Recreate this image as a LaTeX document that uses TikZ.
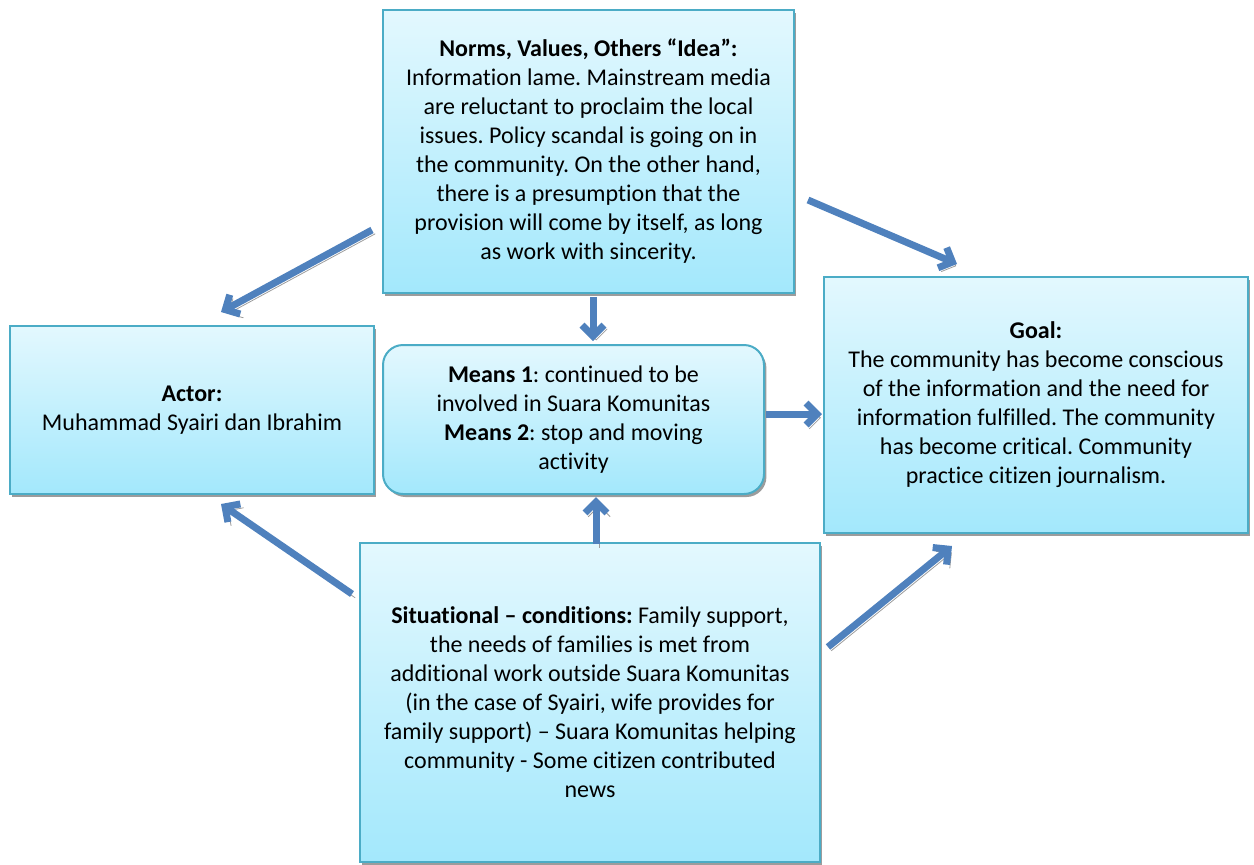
\documentclass[tikz,border=0pt]{standalone}
\usepackage{fontspec}
\setmainfont{Carlito}[Ligatures=NoCommon]
\frenchspacing
\usetikzlibrary{arrows.meta,shadows}
\definecolor{boxline}{HTML}{4BACC6}
\definecolor{boxtop}{HTML}{E3F8FE}
\definecolor{boxbottom}{HTML}{A3E8FC}
\definecolor{flowblue}{HTML}{4F81BD}
\definecolor{flowshadow}{HTML}{9C9C9C}

\begin{document}
\begin{tikzpicture}[x=0.5pt,y=-0.5pt]
\tikzset{
  infobox/.style={rectangle,draw=boxline,line width=1pt,top color=boxtop,bottom color=boxbottom,
    align=center,inner sep=2pt,font=\fontsize{12}{14.5}\selectfont,
    drop shadow={shadow xshift=1.2pt,shadow yshift=-1.5pt,fill=flowshadow,opacity=1}},
  meansbox/.style={infobox,rounded corners=10pt},
  flow/.style={-{Straight Barb[length=5.5pt,width=11pt]},line width=3.5pt,draw=flowblue,
    preaction={draw=flowshadow,transform canvas={xshift=1.6pt,yshift=-1.9pt}}}
}
\useasboundingbox (0,0) rectangle (1254,864);
\node[infobox,minimum width=205.5pt,minimum height=141.5pt] (n_norms) at (588.5,151.5)
  {\textbf{Norms, Values, Others “Idea”:}\\ Information lame. Mainstream media\\ are reluctant to proclaim the local\\ issues. Policy scandal is going on in\\ the community. On the other hand,\\ there is a presumption that the\\ provision will come by itself, as long\\ as work with sincerity.};
\node[infobox,minimum width=182pt,minimum height=84pt] (n_actor) at (192,410)
  {\textbf{Actor:}\\ Muhammad Syairi dan Ibrahim};
\node[meansbox,minimum width=190.5pt,minimum height=74.5pt] (n_means) at (573.5,419.5)
  {\textbf{Means 1}: continued to be\\ involved in Suara Komunitas\\ \textbf{Means 2}: stop and moving\\ activity};
\node[infobox,minimum width=212pt,minimum height=128pt] (n_goal) at (1036,405)
  {\textbf{Goal:}\\ The community has become conscious\\ of the information and the need for\\ information fulfilled. The community\\ has become critical. Community\\ practice citizen journalism.};
\node[infobox,minimum width=230pt,minimum height=159.5pt] (n_sit) at (590,702.5)
  {\textbf{Situational – conditions:} Family support,\\ the needs of families is met from\\ additional work outside Suara Komunitas\\ (in the case of Syairi, wife provides for\\ family support) – Suara Komunitas helping\\ community - Some citizen contributed\\ news};
% arrows between the boxes
\draw[flow] ([shift={(-10,-64)}]n_norms.south west) -- ([shift={(212,-13)}]n_actor.north west);
\draw[flow] ([shift={(13,-94)}]n_norms.south east) -- ([shift={(134,-12)}]n_goal.north west);
\draw[flow] ([shift={(4.5,3)}]n_norms.south) -- ([shift={(19.5,-3)}]n_means.north);
\draw[flow] ([shift={(1,-5.5)}]n_means.east) -- ([shift={(-1,9)}]n_goal.west);
\draw[flow] ([shift={(6,2)}]n_sit.north) -- ([shift={(22.5,2)}]n_means.south);
\draw[flow] ([shift={(-7,52)}]n_sit.north west) -- ([shift={(212,9)}]n_actor.south west);
\draw[flow] ([shift={(7,105)}]n_sit.north east) -- ([shift={(129,12)}]n_goal.south west);
\end{tikzpicture}
\end{document}
